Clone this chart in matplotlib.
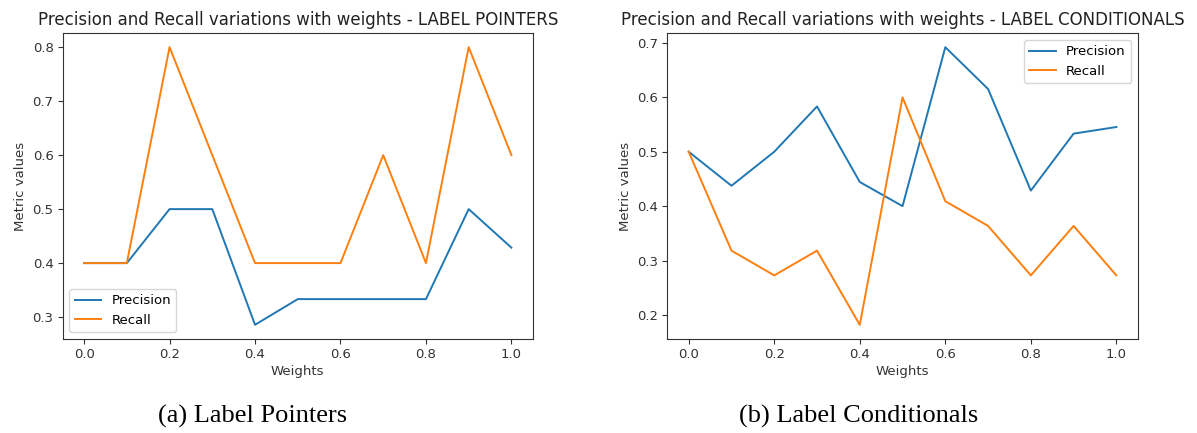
import matplotlib
matplotlib.use('Agg')
import matplotlib.pyplot as plt

# Weights swept for both experiments
weights = [0.0, 0.1, 0.2, 0.3, 0.4, 0.5, 0.6, 0.7, 0.8, 0.9, 1.0]

# Label pointers results
pointers_precision = [0.4, 0.4, 0.5, 0.5, 0.2857, 0.3333, 0.3333, 0.3333, 0.3333, 0.5, 0.4286]
pointers_recall = [0.4, 0.4, 0.8, 0.6, 0.4, 0.4, 0.4, 0.6, 0.4, 0.8, 0.6]

# Label conditionals results
cond_precision = [0.5, 0.4375, 0.5, 0.5833, 0.4444, 0.4, 0.6923, 0.6154, 0.4286, 0.5333, 0.5455]
cond_recall = [0.5, 0.3182, 0.2727, 0.3182, 0.1818, 0.6, 0.4091, 0.3636, 0.2727, 0.3636, 0.2727]

titles = ['Precision and Recall variations with weights - LABEL POINTERS',
          'Precision and Recall variations with weights - LABEL CONDITIONALS']
captions = ['(a) Label Pointers', '(b) Label Conditionals']

fig = plt.figure(figsize=(11.97, 4.33), dpi=100)
ax1 = fig.add_axes([0.0524, 0.2178, 0.3927, 0.7053])
ax2 = fig.add_axes([0.5575, 0.2178, 0.3930, 0.7053])

panels = [
    (ax1, pointers_precision, pointers_recall, 'lower left'),
    (ax2, cond_precision, cond_recall, 'upper right'),
]

for i, (ax, prec, rec, loc) in enumerate(panels):
    ax.plot(weights, prec, color='#1f77b4', lw=1.4, label='Precision')
    ax.plot(weights, rec, color='#ff7f0e', lw=1.4, label='Recall')
    ax.set_title(titles[i], fontsize=12, color='#222222', pad=6)
    ax.set_xlabel('Weights', fontsize=9.5, color='#333333', labelpad=3)
    ax.set_ylabel('Metric values', fontsize=9.5, color='#333333', labelpad=4)
    ax.tick_params(labelsize=9.5, colors='#333333', length=3.3, pad=3.3)
    ax.set_xticks([0.0, 0.2, 0.4, 0.6, 0.8, 1.0])
    for sp in ax.spines.values():
        sp.set_color('#333333')
    ax.legend(loc=loc, fontsize=9.5)

fig.text(0.2114, 0.038, captions[0], family='Liberation Serif', fontsize=19,
         ha='center', va='center')
fig.text(0.717, 0.038, captions[1], family='Liberation Serif', fontsize=19,
         ha='center', va='center')

fig.savefig('out.png', dpi=100)
